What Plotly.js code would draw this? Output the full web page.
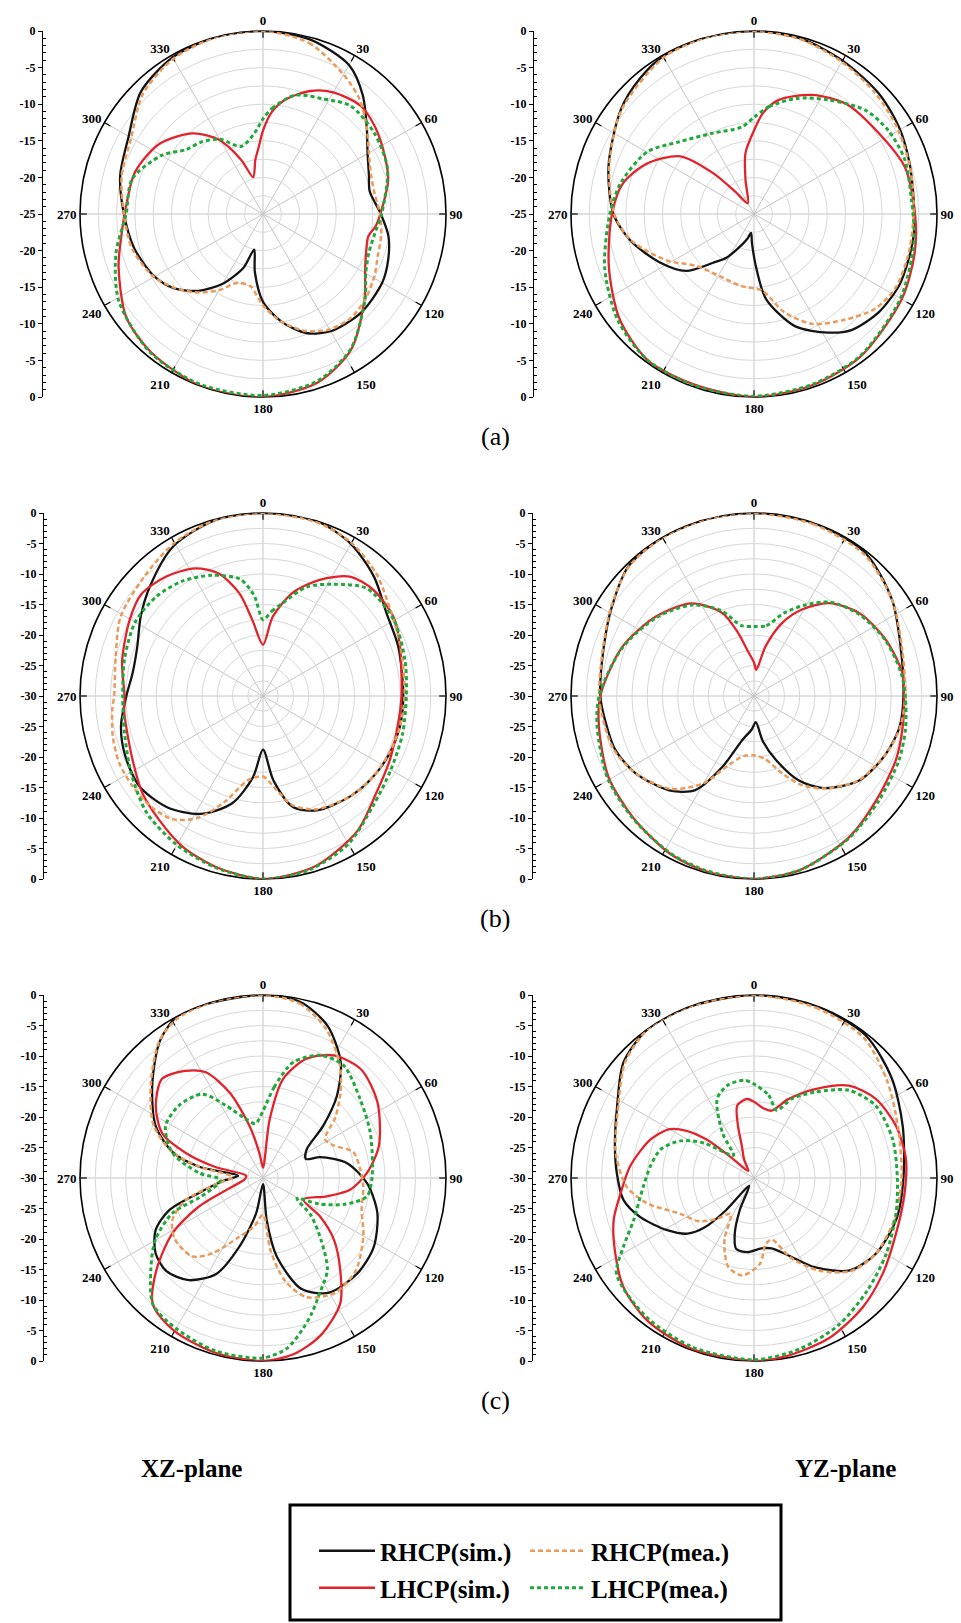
<!DOCTYPE html>
<html><head><meta charset="utf-8">
<script src="https://cdn.plot.ly/plotly-3.0.1.min.js"></script>
<style>html,body{margin:0;padding:0;background:#fff}#chart{width:961px;height:1623px}</style>
</head><body><div id="chart"></div>
<script>
// ---------- DATA (theta in degrees, r in dB) ----------
// (a) XZ-plane, radial range -25..0
const A_XZ_RS_T = [0,15,30,40,50,60,70,78,90,100,110,120,135,150,160,170,180,188,194,200,210,220,230,240,255,270,285,300,315,330,345,360];
const A_XZ_RS_R = [0,-0.3,-1.5,-3.8,-6.5,-8.5,-9.6,-10.1,-8.9,-7.6,-6.8,-6.2,-6,-6.5,-7.7,-10,-13,-17,-20,-17.2,-14,-11.3,-9.2,-7.9,-6.8,-6,-4.8,-3.8,-1.4,-0.3,0,0];
const A_XZ_RM_T = [0,15,30,40,50,60,70,80,90,100,110,120,130,140,150,160,170,180,190,200,210,220,230,240,255,270,285,300,315,330,345,360];
const A_XZ_RM_R = [0,-0.8,-3,-4.5,-6.5,-8.3,-9.3,-9.5,-9,-8.6,-8.3,-7.5,-6.8,-6.4,-6.8,-8,-10,-12.5,-15,-15,-13,-11,-9.3,-7.8,-6.5,-6,-5,-4.2,-1.8,-0.5,0,0];
const A_XZ_LS_T = [0,5,11,21,30,42,52,65,75,86,96,102,110,118,130,147,162,180,200,219,233,250,262,270,288,304,319,329,338,345,352,356,360];
const A_XZ_LS_R = [-13.6,-11,-9.1,-7,-5.8,-5.1,-5.6,-6.6,-7.3,-8.6,-9.5,-10.3,-10,-9.2,-6.9,-2.9,-0.8,0,0,-0.7,-1.6,-4,-5.5,-6.1,-6.6,-7.9,-10.4,-13.1,-17,-19.8,-17.5,-16,-13.6];
const A_XZ_LM_T = [0,5,15,27,39,54,70,90,100,110,120,130,147,162,180,200,219,239,255,270,285,300,310,320,330,342,354,360];
const A_XZ_LM_R = [-12,-10.5,-8.2,-7.3,-6,-6.2,-6.9,-8.8,-9.5,-9.6,-8.8,-6.8,-3,-1,-0.2,-0.2,-0.6,-2,-4.2,-6.3,-6.5,-9,-11.3,-12.1,-13.2,-15.3,-13.9,-12];

// (a) YZ-plane, radial range -25..0
const A_YZ_RS_T = [0,15,30,46,59,71,85,97,106,116,128,140,148,160,172,178,184,189,195,204,212,220,230,243,258,270,288,308,320,331,345,360];
const A_YZ_RS_R = [0,-0.2,-0.8,-1.3,-1.9,-2.6,-3.1,-3,-3,-2.9,-3.3,-4.3,-5.9,-8.7,-13.3,-17.9,-21,-22.4,-21.5,-20,-18,-16.3,-12.9,-10.5,-7.7,-5.8,-4.1,-1.9,-0.8,-0.1,0,0];
const A_YZ_RM_T = [0,15,30,45,60,75,90,105,118,128,139,152,163,174,190,209,228,242,258,270,288,308,330,345,360];
const A_YZ_RM_R = [0,-0.3,-1,-1.6,-2.2,-2.8,-3.2,-3.2,-3.2,-4,-5.9,-8,-11,-14.5,-15,-15.3,-14.4,-11.5,-7.8,-5.9,-4.2,-2,-0.3,0,0];
const A_YZ_LS_T = [0,5,12,26,40,57,73,90,104,120,143,161,180,199,216,232,250,270,283,295,308,315,320,330,346,352,360];
const A_YZ_LS_R = [-13.6,-11.2,-9.1,-6.9,-5.4,-4.7,-3.4,-3,-2.4,-1.7,-0.7,-0.3,0,-0.3,-0.3,-1.7,-3.9,-5.6,-6.6,-8.8,-12.2,-17.1,-21,-23.3,-20.2,-16.6,-13.6];
const A_YZ_LM_T = [0,8,20,33,47,58,70,85,100,120,143,161,180,199,216,232,250,270,283,300,314,333,352,360];
const A_YZ_LM_R = [-11.8,-10.2,-8.2,-6.4,-4.2,-3.4,-3.1,-3.4,-2.8,-1.9,-0.8,-0.4,-0.1,-0.2,-0.3,-1.4,-3.3,-5.3,-6.3,-8.1,-10.8,-12.6,-13,-11.8];

// (b) XZ-plane, radial range -30..0
const B_XZ_RS_T = [0,17,30,43,56,70,90,103,114,126,139,155,165,173,180,187,196,208,221,234,247,258,270,280,291,303,314,329,345,360];
const B_XZ_RS_R = [0,0,-1.2,-3.3,-5.6,-6.4,-7,-7,-7.2,-7.6,-8.2,-9.3,-11.2,-16.1,-21.2,-16.6,-11.7,-8.1,-5.9,-4.9,-5.4,-6.2,-7.6,-8.3,-7.9,-6.1,-4.2,-1.4,-0.1,0];
const B_XZ_RM_T = [0,17,30,43,56,70,90,103,114,126,139,155,165,172,180,190,200,208,216,225,235,245,255,265,270,285,299,315,330,345,360];
const B_XZ_RM_R = [0,-0.2,-1,-2.7,-4.8,-6,-6.8,-7,-7.3,-7.6,-8.2,-9.5,-11.5,-14.5,-16.8,-16,-11.5,-7.4,-5,-4.2,-4,-4,-4.5,-5.2,-5.6,-5,-3.3,-2.4,-1,-0.1,0];
const B_XZ_LS_T = [0,7,16,26,36,46,59,70,90,100,117,131,145,163,180,195,208,220,231,244,263,270,284,300,310,321,332,340,347,352,360];
const B_XZ_LS_R = [-21.6,-16.9,-12.4,-8.8,-5.8,-4.9,-5,-6.1,-7.3,-7.4,-6.7,-5.5,-3,-0.8,0,-0.9,-2,-3.5,-4.6,-6.2,-7.1,-7.3,-6.2,-4.8,-4,-4.8,-6.3,-8.6,-12.7,-17.4,-21.6];
const B_XZ_LM_T = [0,6,12,22,32,44,60,76,90,105,120,135,150,165,180,195,210,225,240,255,270,285,300,313,325,337,349,355,360];
const B_XZ_LM_R = [-17.5,-16,-14.4,-10.7,-8.4,-5.5,-5.2,-6,-6.5,-6.3,-5.8,-4.5,-2,-0.5,0,-0.8,-1.8,-3,-5,-6.5,-7,-6.5,-5.8,-6.1,-7,-8.5,-10.5,-13.5,-17.5];

// (b) YZ-plane, radial range -30..0
const B_YZ_RS_T = [0,19,38,55,71,90,102,114,129,143,152,161,169,176,184,195,204,212,222,237,249,260,270,288,302,316,330,345,360];
const B_YZ_RS_R = [0,0,-0.3,-2.4,-4.6,-5.5,-5.6,-6.4,-7.9,-11.1,-14.3,-18.9,-22.5,-25.7,-24.5,-22.5,-17.3,-11.8,-9.2,-6.8,-5.6,-5.3,-4.8,-4.1,-2.5,-0.4,0,0,0];
const B_YZ_RM_T = [0,19,38,55,71,90,102,113,129,143,152,160,170,180,190,200,210,222,237,249,260,270,288,302,316,330,345,360];
const B_YZ_RM_R = [0,-0.2,-0.6,-2.4,-4.4,-5.2,-5.5,-6.3,-8,-11,-13.5,-16.5,-19.5,-20.3,-20,-18,-13.5,-9.5,-6.8,-5.4,-5,-4.6,-4,-2.4,-0.5,0,0,0];
const B_YZ_LS_T = [0,5,13,21,29,39,52,67,81,90,102,114,130,146,165,180,195,208,225,241,259,270,290,309,326,339,346,352,360];
const B_YZ_LS_R = [-24.5,-25.7,-21.7,-17.2,-13.8,-10.4,-8,-6.5,-5.4,-5.4,-5.1,-4.5,-3.7,-2.1,-0.5,0,-0.2,-0.7,-1.9,-2.7,-4.1,-4.8,-6.9,-9.3,-11.7,-15.4,-19.4,-22.5,-24.5];
const B_YZ_LM_T = [0,10,20,29,39,52,67,81,90,102,114,130,146,165,180,195,208,225,241,259,270,290,309,326,339,350,360];
const B_YZ_LM_R = [-18.6,-18.3,-15.5,-13,-10.2,-8.2,-6.6,-5.6,-5.2,-4.6,-4,-3.3,-2,-0.5,0,-0.3,-0.8,-1.8,-2.5,-3.8,-4.6,-7,-9.5,-12,-15,-18.3,-18.6];

// (c) XZ-plane, radial range -30..0
const C_XZ_RS_T = [0,12,23,34,42,49,57,66,70,80,93,107,122,135,150,161,170,175,180,191,199,206,216,226,235,244,251,257,266,275,280,286,296,310,323,332,342,360];
const C_XZ_RS_R = [0,-0.5,-2.9,-7.2,-11.9,-16.9,-21.5,-22.3,-20,-16,-12.9,-10.4,-8.6,-8,-8.3,-10.8,-16.9,-23.1,-29,-24.1,-18.1,-12.5,-9.3,-8,-8.5,-10.4,-13.7,-19.3,-23.5,-25.9,-19.4,-14.6,-10.4,-6.3,-1.9,0,0,0];
const C_XZ_RM_T = [0,12,23,34,42,50,58,65,74,85,95,108,120,135,148,160,168,174,180,190,202,214,222,235,245,254,262,272,280,286,296,310,323,332,345,360];
const C_XZ_RM_R = [0,-0.8,-3.5,-7.5,-11,-14.5,-18,-17.3,-14.6,-14,-13.5,-13,-11,-8.5,-7.8,-9.2,-12.8,-18,-24,-22,-19.6,-15.1,-12.7,-12.4,-13.6,-16.8,-22,-25,-19.5,-14.5,-10,-6,-1.8,-0.3,0,0];
const C_XZ_LS_T = [0,6.5,11.5,20,30,42,56.5,74.6,87,97.7,106,118,124,131,140,148.5,160,170,180,195,210,221,229,238.6,246,254.5,266,278,283,288,294,304,314.5,324,331.6,338.6,345.5,352,360];
const C_XZ_LS_R = [-28.3,-20.3,-13.4,-9.2,-6.8,-6,-7.5,-10.3,-12.9,-15.6,-19.1,-22.5,-18.7,-14.6,-10.3,-5.8,-2.5,-0.7,0,-0.3,-1,-2.5,-6.8,-12.6,-18.5,-24.9,-27,-27.2,-22,-16.7,-11.9,-8.8,-6.8,-8.3,-10.3,-14.9,-21.2,-26,-28.3];
const C_XZ_LM_T = [0,7,14.6,25,35.6,51,67,89,100,108,115,121,128,137,145,153.7,160,165,172,180,195,210,221,230.6,240,248.7,253,262,268,274.5,285.5,298,310.7,324,333,344,352,360];
const C_XZ_LM_R = [-19,-15,-10.4,-7.8,-7.3,-9.5,-10.9,-12.1,-12.7,-16,-20,-23.5,-20,-16,-11.6,-9,-6.5,-4.5,-1.8,-0.5,-0.6,-1.5,-2.5,-6.2,-9.6,-14,-19.1,-22.5,-23,-19.5,-14.6,-11.9,-11.8,-13,-16.7,-20,-21,-19];

// (c) YZ-plane, radial range -30..0
const C_YZ_RS_T = [0,19.5,38,54,71,90,106,122,134,145.5,156,166,174,185,194,199,204,212,221,225,230,239,251,260.5,272,283,298,311.6,324.5,339,360];
const C_YZ_RS_R = [0,0,-0.3,-2.1,-4.2,-5.5,-5.7,-6.5,-8.2,-12.2,-16.1,-18.1,-18.4,-17.8,-18,-20.3,-24.3,-28.5,-23,-18.5,-15.8,-13.4,-10.3,-8.3,-7.5,-6.6,-4.6,-1.4,0,0,0];
const C_YZ_RM_T = [0,20,38,54,71,90,106,122,134,145,155,164,170,176,187,196,201,206,213,222,232,244,256.7,266,280,298,312,325,340,360];
const C_YZ_RM_R = [0,-0.3,-0.8,-3,-5,-5.8,-6,-6.5,-8,-11.5,-15.5,-19.5,-19,-15.9,-13.9,-14.8,-16.7,-19,-23,-21,-18.5,-16.6,-12,-9.1,-7,-4.8,-1.6,0,0,0];
const C_YZ_LS_T = [0,8,14.6,23.5,34.5,45.7,57,70,83,95.7,111.4,126.7,140,155,170,180,200,216.8,230,241.4,253.4,263.5,275.4,290.5,300,305,309,312,320,332,339,343,347,355,360];
const C_YZ_LS_R = [-17.5,-18.5,-18.6,-15.9,-12.3,-8.3,-6.2,-5.2,-4.9,-5.2,-5,-3.7,-2.3,-1,-0.3,0,-0.2,-0.8,-2.1,-4.1,-6,-8,-9.6,-11.9,-14,-16.5,-20,-25,-28.5,-26.5,-24.5,-21,-17.8,-17,-17.5];
const C_YZ_LM_T = [0,10,18.5,25.5,35.5,47.3,59.3,74.4,90,104,120,135,150,165,180,200,218,235,242,250.7,265.6,276.5,287,296.8,305,312,318,325,335,344,354.5,360];
const C_YZ_LM_R = [-14.6,-16.2,-18.3,-15.6,-12.7,-8.8,-6.8,-6.4,-6.5,-6,-5,-3.8,-2.2,-1,-0.2,-0.5,-1.2,-2.5,-5.7,-9.1,-11.8,-12.9,-14,-16.5,-20,-24,-25,-21,-15.7,-14.2,-13.9,-14.6];

// labels
const ANG_TICKS = [0,30,60,90,120,150,180,210,240,270,300,330];
const SERIES_NAMES = {RS:'RHCP(sim.)', RM:'RHCP(mea.)', LS:'LHCP(sim.)', LM:'LHCP(mea.)'};
const PANEL_LABELS = ['(a)','(b)','(c)'];
const PLANE_LABELS = ['XZ-plane','YZ-plane'];

// ---------- LAYOUT ----------
const W = 961, H = 1623, R = 183;
const SERIF = 'Liberation Serif, Times New Roman, serif';
const panels = [
  {cx:263, cy:214, ax:42,  rmin:-25, d:{RS:[A_XZ_RS_T,A_XZ_RS_R],RM:[A_XZ_RM_T,A_XZ_RM_R],LS:[A_XZ_LS_T,A_XZ_LS_R],LM:[A_XZ_LM_T,A_XZ_LM_R]}},
  {cx:754, cy:214, ax:533, rmin:-25, d:{RS:[A_YZ_RS_T,A_YZ_RS_R],RM:[A_YZ_RM_T,A_YZ_RM_R],LS:[A_YZ_LS_T,A_YZ_LS_R],LM:[A_YZ_LM_T,A_YZ_LM_R]}},
  {cx:263, cy:696, ax:43,  rmin:-30, d:{RS:[B_XZ_RS_T,B_XZ_RS_R],RM:[B_XZ_RM_T,B_XZ_RM_R],LS:[B_XZ_LS_T,B_XZ_LS_R],LM:[B_XZ_LM_T,B_XZ_LM_R]}},
  {cx:754, cy:696, ax:532, rmin:-30, d:{RS:[B_YZ_RS_T,B_YZ_RS_R],RM:[B_YZ_RM_T,B_YZ_RM_R],LS:[B_YZ_LS_T,B_YZ_LS_R],LM:[B_YZ_LM_T,B_YZ_LM_R]}},
  {cx:263, cy:1178, ax:43, rmin:-30, d:{RS:[C_XZ_RS_T,C_XZ_RS_R],RM:[C_XZ_RM_T,C_XZ_RM_R],LS:[C_XZ_LS_T,C_XZ_LS_R],LM:[C_XZ_LM_T,C_XZ_LM_R]}},
  {cx:754, cy:1178, ax:532, rmin:-30, d:{RS:[C_YZ_RS_T,C_YZ_RS_R],RM:[C_YZ_RM_T,C_YZ_RM_R],LS:[C_YZ_LS_T,C_YZ_LS_R],LM:[C_YZ_LM_T,C_YZ_LM_R]}}
];
const styles = [
  {key:'RS', color:'#141414', dash:'solid',   width:2.3, legend:'legend'},
  {key:'LS', color:'#e2232b', dash:'solid',   width:2.3, legend:'legend3'},
  {key:'RM', color:'#e99b5c', dash:'5px,3px', width:2.5, legend:'legend2'},
  {key:'LM', color:'#1fa83b', dash:'4px,3px', width:3,   legend:'legend4'}
];

const traces = [];
const layout = {
  width: W, height: H, margin:{l:0,r:0,t:0,b:0},
  paper_bgcolor:'#fff', plot_bgcolor:'#fff', showlegend:true,
  font:{family:SERIF, color:'#000'},
  annotations:[], shapes:[]
};

panels.forEach((p, i) => {
  const pid = i === 0 ? 'polar' : 'polar' + (i + 1);
  const yd = [1 - (p.cy + R) / H, 1 - (p.cy - R) / H];
  layout[pid] = {
    domain:{x:[(p.cx - R) / W, (p.cx + R) / W], y:yd},
    bgcolor:'#fff',
    radialaxis:{range:[p.rmin, 0], tick0:0, dtick:2.5, showticklabels:false, ticks:'', showline:false,
                gridcolor:'#d7d7d7', gridwidth:1, layer:'below traces'},
    angularaxis:{rotation:90, direction:'clockwise', tickmode:'array', tickvals:ANG_TICKS,
                 ticktext:ANG_TICKS.map(String), ticks:'inside', ticklen:6, tickwidth:1.2, tickcolor:'#000',
                 showline:true, linecolor:'#000', linewidth:1.6, gridcolor:'#c4c4c4', gridwidth:1,
                 tickfont:{family:SERIF, size:13, color:'#000', weight:'bold'}, layer:'below traces'}
  };
  styles.forEach(s => {
    traces.push({
      type:'scatterpolar', mode:'lines', subplot:pid,
      theta:p.d[s.key][0], r:p.d[s.key][1],
      name:SERIES_NAMES[s.key], legend:s.legend, showlegend:i === 0,
      line:{color:s.color, width:s.width, dash:s.dash, shape:'spline', smoothing:0.8},
      hoverinfo:'skip'
    });
  });
  // dB scale on the left of each polar plot
  const n = i + 2;
  const lim = -p.rmin;
  const tv = [], tt = [], mv = [];
  for (let v = -lim; v <= lim; v += 5) { tv.push(v); tt.push(String(Math.abs(v) - lim)); }
  for (let v = -lim; v <= lim; v += 1) { if (v % 5 !== 0) mv.push(v); }
  layout['xaxis' + n] = {visible:false, domain:[0, 0.001], anchor:'y' + n, fixedrange:true};
  layout['yaxis' + n] = {
    domain:yd, anchor:'free', position:p.ax / W, range:[-lim, lim],
    tickmode:'array', tickvals:tv, ticktext:tt, ticks:'outside', ticklen:4, tickwidth:1, tickcolor:'#000',
    showline:true, linecolor:'#000', linewidth:1, showgrid:false, zeroline:false, fixedrange:true,
    minor:{tickmode:'array', tickvals:mv, ticks:'inside', ticklen:3, tickwidth:1, tickcolor:'#000', showgrid:false},
    tickfont:{family:SERIF, size:12, color:'#000', weight:'bold'}
  };
  traces.push({type:'scatter', mode:'none', x:[], y:[], xaxis:'x' + n, yaxis:'y' + n, showlegend:false, hoverinfo:'skip'});
});

// panel labels (a)(b)(c)
[436, 918, 1400].forEach((y, k) => {
  layout.annotations.push({text:PANEL_LABELS[k], xref:'paper', yref:'paper', x:495 / W, y:1 - y / H,
    xanchor:'center', yanchor:'middle', showarrow:false, font:{family:SERIF, size:26, color:'#000'}});
});
[[191, 0], [845, 1]].forEach(([x, k]) => {
  layout.annotations.push({text:PLANE_LABELS[k], xref:'paper', yref:'paper', x:x / W, y:1 - 1468 / H,
    xanchor:'center', yanchor:'middle', showarrow:false, font:{family:SERIF, size:25, color:'#000', weight:'bold'}});
});

// legend box + four single-entry legends
layout.shapes.push({type:'rect', xref:'paper', yref:'paper', x0:290 / W, x1:781 / W, y0:1 - 1620 / H, y1:1 - 1505 / H,
  line:{color:'#000', width:3}, fillcolor:'rgba(0,0,0,0)'});
const legFont = {family:SERIF, size:25, color:'#000', weight:'bold'};
const legPos = {legend:[314, 1551], legend2:[525, 1551], legend3:[314, 1588], legend4:[525, 1588]};
Object.keys(legPos).forEach(k => {
  layout[k] = {x:legPos[k][0] / W, y:1 - legPos[k][1] / H, xanchor:'left', yanchor:'middle',
    bgcolor:'rgba(0,0,0,0)', borderwidth:0, font:legFont, itemwidth:56, orientation:'v'};
});

Plotly.newPlot('chart', traces, layout, {staticPlot:true, displayModeBar:false});
</script>
</body></html>
